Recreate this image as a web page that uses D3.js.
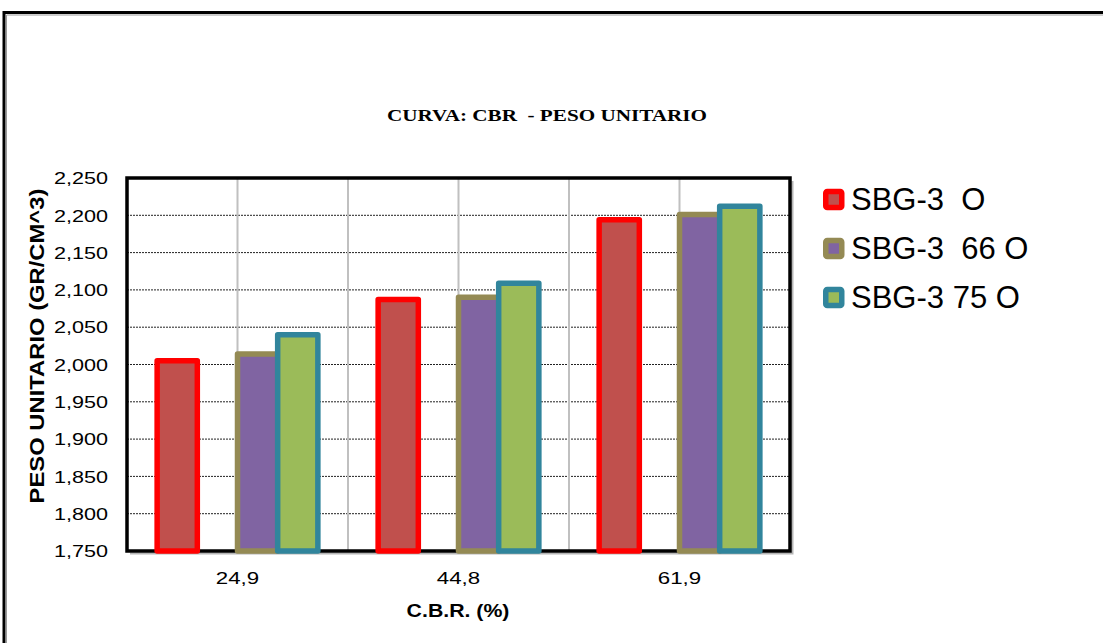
<!DOCTYPE html>
<html>
<head>
<meta charset="utf-8">
<script src="https://cdn.jsdelivr.net/npm/d3@7"></script>
<style>
  html, body { margin: 0; padding: 0; background: #fff; }
  svg { display: block; }
  text { white-space: pre; }
</style>
</head>
<body>
<svg id="chart" width="1103" height="643"></svg>
<script>
// C.B.R. values on the category axis
const categories = ["24,9", "44,8", "61,9"];

// Unit weight (gr/cm^3 x 1000) per series
const sbg3O   = [2005, 2087, 2194];
const serie2  = [1750, 1750, 1750];
const sbg3_66 = [2014, 2090, 2201];
const sbg3_75 = [2040, 2109, 2212];

const seriesNames = ["SBG-3  O", "Serie 2", "SBG-3  66 O", "SBG-3 75 O"];
const seriesValues = [sbg3O, serie2, sbg3_66, sbg3_75];
const seriesFill   = ["#c0504d", "#4f81bd", "#8064a2", "#9bbb59"];
const seriesStroke = ["#ff0000", "#6f97cc", "#948a54", "#31859c"];
const seriesStrokeW = [5.5, 2.5, 5.5, 5.5];
const inLegend = [true, false, true, true];

const yTicks = [1750, 1800, 1850, 1900, 1950, 2000, 2050, 2100, 2150, 2200, 2250];

const svg = d3.select("#chart");

// outer chart border
svg.append("rect")
  .attr("x", 4).attr("y", 12.5).attr("width", 1200).attr("height", 800)
  .attr("fill", "#fff").attr("stroke", "#000").attr("stroke-width", 3);
svg.append("path")
  .attr("d", "M6.5,900 V15 H1200")
  .attr("fill", "none").attr("stroke", "#9a9a9a").attr("stroke-width", 1);

const plot = { left: 127, right: 790, top: 178, bottom: 551 };

const x = d3.scaleBand().domain(categories).range([plot.left, plot.right]).padding(0);
const xs = d3.scaleBand().domain(d3.range(seriesNames.length))
  .range([0, x.bandwidth()]).paddingInner(0).paddingOuter(0.75);
const y = d3.scaleLinear().domain([1750, 2250]).range([plot.bottom, plot.top]);

// horizontal dotted gridlines
svg.append("g").selectAll("line")
  .data(yTicks.slice(1, -1))
  .join("line")
  .attr("x1", plot.left).attr("x2", plot.right)
  .attr("y1", d => y(d)).attr("y2", d => y(d))
  .attr("stroke", "#222").attr("stroke-width", 1)
  .attr("stroke-dasharray", "2,1");

// vertical gridlines at category centres and boundaries
const vLines = [];
categories.forEach((c, i) => {
  if (i > 0) vLines.push(x(c));
  vLines.push(x(c) + x.bandwidth() / 2);
});
svg.append("g").selectAll("line")
  .data(vLines)
  .join("line")
  .attr("x1", d => d).attr("x2", d => d)
  .attr("y1", plot.top).attr("y2", plot.bottom)
  .attr("stroke", "#c0c0c0").attr("stroke-width", 2);

function drawSeries(si, dy) {
  svg.append("g")
    .attr("transform", `translate(0,${dy})`)
    .selectAll("rect")
    .data(categories.map((c, ci) => ({ c, v: seriesValues[si][ci] })))
    .join("rect")
    .attr("x", d => x(d.c) + xs(si))
    .attr("width", xs.bandwidth())
    .attr("y", d => y(d.v))
    .attr("height", d => y(1750) - y(d.v))
    .attr("fill", seriesFill[si])
    .attr("stroke", seriesStroke[si])
    .attr("stroke-width", seriesStrokeW[si])
    .attr("stroke-linejoin", "round");
}

// the flat series sits on the baseline, just under the axis line
drawSeries(1, 2);

// plot frame with a soft shadow on the right and bottom
svg.append("path")
  .attr("d", `M${plot.right + 2.5},${plot.top + 3} V${plot.bottom + 2.5} H${plot.left + 3}`)
  .attr("fill", "none").attr("stroke", "#b5b5b5").attr("stroke-width", 2);
svg.append("rect")
  .attr("x", plot.left).attr("y", plot.top)
  .attr("width", plot.right - plot.left).attr("height", plot.bottom - plot.top)
  .attr("fill", "none").attr("stroke", "#000").attr("stroke-width", 3.5);

// clustered bars
[0, 2, 3].forEach(si => drawSeries(si, 0));

// y axis labels
const yAxis = svg.append("g")
  .attr("transform", `translate(${plot.left},0)`)
  .call(d3.axisLeft(y).tickValues(yTicks).tickFormat(d3.format(",")).tickSize(0));
yAxis.select(".domain").remove();
yAxis.selectAll("text")
  .attr("x", 0).attr("dy", "0.36em")
  .attr("transform", "translate(-19,0) scale(1.35,1)")
  .attr("font-family", "Liberation Sans, Arial, sans-serif")
  .attr("font-size", 16).attr("fill", "#000");

// x axis labels
const xAxis = svg.append("g")
  .attr("transform", `translate(0,${plot.bottom})`)
  .call(d3.axisBottom(x).tickSize(0));
xAxis.select(".domain").remove();
xAxis.selectAll("text")
  .attr("y", 0).attr("dy", 0)
  .attr("transform", "translate(0,33) scale(1.35,1)")
  .attr("font-family", "Liberation Sans, Arial, sans-serif")
  .attr("font-size", 16.5).attr("fill", "#000");

// axis titles
svg.append("text")
  .attr("transform", "translate(458,617) scale(1.12,1)")
  .attr("text-anchor", "middle")
  .attr("font-family", "Liberation Sans, Arial, sans-serif")
  .attr("font-weight", "bold").attr("font-size", 19)
  .text("C.B.R. (%)");

svg.append("text")
  .attr("transform", "translate(44,346) rotate(-90) scale(1.22,1)")
  .attr("text-anchor", "middle")
  .attr("font-family", "Liberation Sans, Arial, sans-serif")
  .attr("font-weight", "bold").attr("font-size", 19.5)
  .text("PESO UNITARIO (GR/CM^3)");

// chart title
svg.append("text")
  .attr("transform", "translate(547,121) scale(1.21,1)")
  .attr("text-anchor", "middle")
  .attr("font-family", "Liberation Serif, Times New Roman, serif")
  .attr("font-weight", "bold").attr("font-size", 17.5)
  .text("CURVA: CBR  - PESO UNITARIO");

// legend
const legendItems = seriesNames.map((n, i) => i).filter(i => inLegend[i]);
const legend = svg.append("g").selectAll("g")
  .data(legendItems)
  .join("g")
  .attr("transform", (d, k) => `translate(823,${199.5 + k * 49})`);
legend.append("rect")
  .attr("x", 2.75).attr("y", -8).attr("width", 16).attr("height", 16)
  .attr("rx", 1.5)
  .attr("fill", d => seriesFill[d])
  .attr("stroke", d => seriesStroke[d])
  .attr("stroke-width", 5.5)
  .attr("stroke-linejoin", "round");
legend.append("text")
  .attr("x", 28).attr("y", 10.5)
  .attr("font-family", "Liberation Sans, Arial, sans-serif")
  .attr("font-size", 31).attr("fill", "#000")
  .text(d => seriesNames[d]);
</script>
</body>
</html>
